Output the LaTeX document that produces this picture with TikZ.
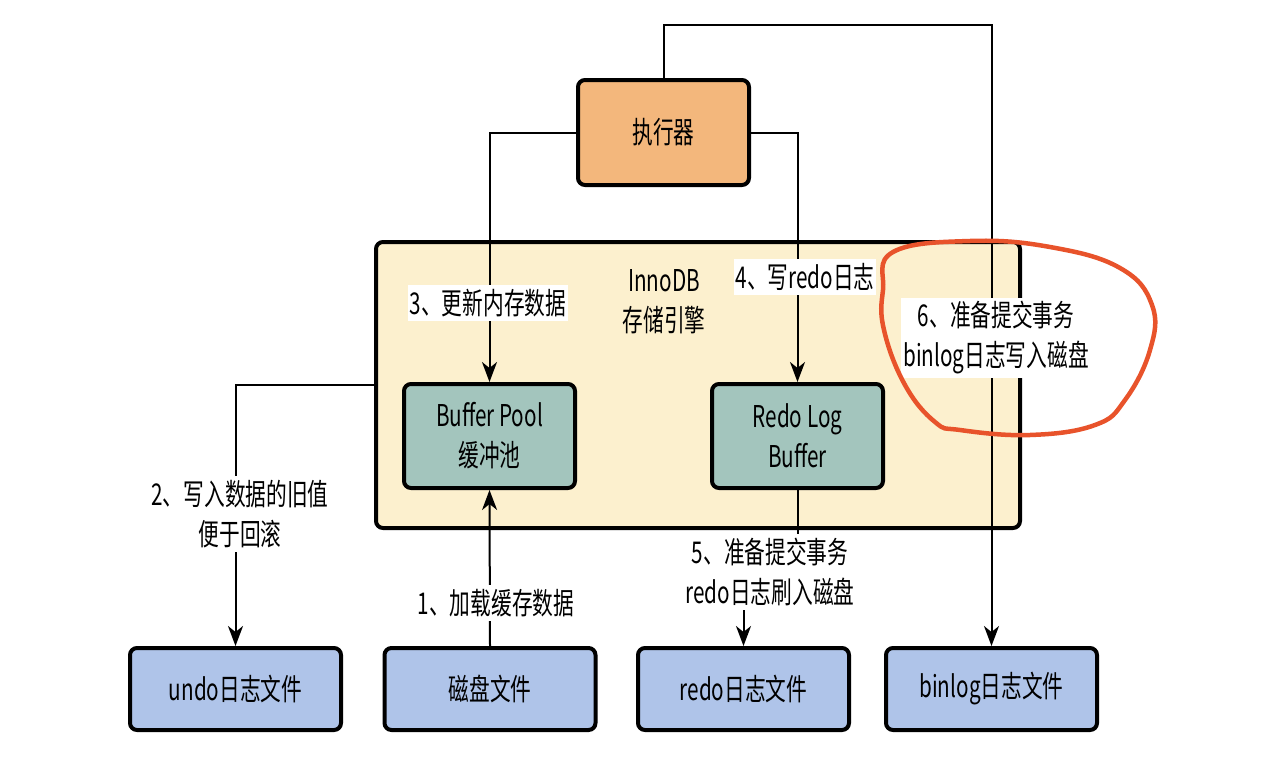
\documentclass[tikz,border=0pt]{standalone}
\usepackage{fontspec}
\setmainfont[FakeStretch=0.69]{Noto Sans CJK SC}
\usetikzlibrary{arrows.meta}
\definecolor{exorange}{HTML}{F3B77C}
\definecolor{cream}{HTML}{FCF0CE}
\definecolor{tealbox}{HTML}{A3C5BD}
\definecolor{fileblue}{HTML}{AFC4E9}
\definecolor{hlred}{HTML}{E8532B}
\begin{document}
\begin{tikzpicture}[x=1pt,y=-1pt,
  txt/.style={align=center,font=\fontsize{30}{40}\selectfont,inner sep=0pt},
  box/.style={txt,draw=black,line width=4pt,rounded corners=7pt},
  lbl/.style={txt,fill=white,inner xsep=2pt,inner ysep=4pt},
  conn/.style={line width=2pt},
  arr/.style={conn,-{Stealth[length=20pt,width=15pt,inset=6pt]}}]
\useasboundingbox (0,0) rectangle (1283,774);
% engine box
\node[box,fill=cream,minimum width=644,minimum height=286] (innodb) at (698,385) {};
\node[txt] (title) at (664,302) {InnoDB\\存储引擎};
% executor
\node[box,fill=exorange,minimum width=171,minimum height=105] (ex) at (663.5,132.5) {执行器};
% inner boxes
\node[box,fill=tealbox,minimum width=171,minimum height=104] (bp) at (489.5,436) {Buffer Pool\\缓冲池};
\node[box,fill=tealbox,minimum width=171,minimum height=104] (rlb) at (797.5,436) {Redo Log\\Buffer};
% files
\node[box,fill=fileblue,minimum width=211,minimum height=82] (undo) at (235.5,689) {undo日志文件};
\node[box,fill=fileblue,minimum width=211,minimum height=82] (disk) at (490,689) {磁盘文件};
\node[box,fill=fileblue,minimum width=211,minimum height=82] (redo) at (743.5,689) {redo日志文件};
\node[box,fill=fileblue,minimum width=211,minimum height=82] (binlog) at (991.5,689) {binlog日志文件};
% connectors
\coordinate (top) at (663.5,25);
\coordinate (b5) at (797.5,570);
\draw[arr] (ex.north) -- (top) -| (binlog.north);
\draw[arr] (ex.west) -| (bp.north);
\draw[arr] (ex.east) -| (rlb.north);
\draw[arr] (innodb.west) -| (undo.north);
\draw[arr] (disk.north) -- (bp.south);
\draw[arr] (rlb.south) -- (b5) -| (redo.north);
% labels
\node[lbl] (l1) at (496,603) {1、加载缓存数据};
\node[lbl] (l2) at (240,514) {2、写入数据的旧值\\便于回滚};
\node[lbl] (l3) at (488,303) {3、更新内存数据};
\node[lbl] (l4) at (805,277) {4、写redo日志};
\node[lbl] (l5) at (770,572) {5、准备提交事务\\redo日志刷入磁盘};
\node[lbl] (l6) at (996,338) {6、准备提交事务\\binlog日志写入磁盘};
% hand-drawn highlight
\draw[hlred,line width=4.5pt,line cap=round] plot[smooth cycle,tension=0.7] coordinates {
 (893,252) (970,241) (1050,247) (1120,268) (1152,305) (1150,350) (1125,400)
 (1095,425) (1030,435) (960,430) (935,422) (905,385) (884,330) (883,290)};
\end{tikzpicture}
\end{document}
